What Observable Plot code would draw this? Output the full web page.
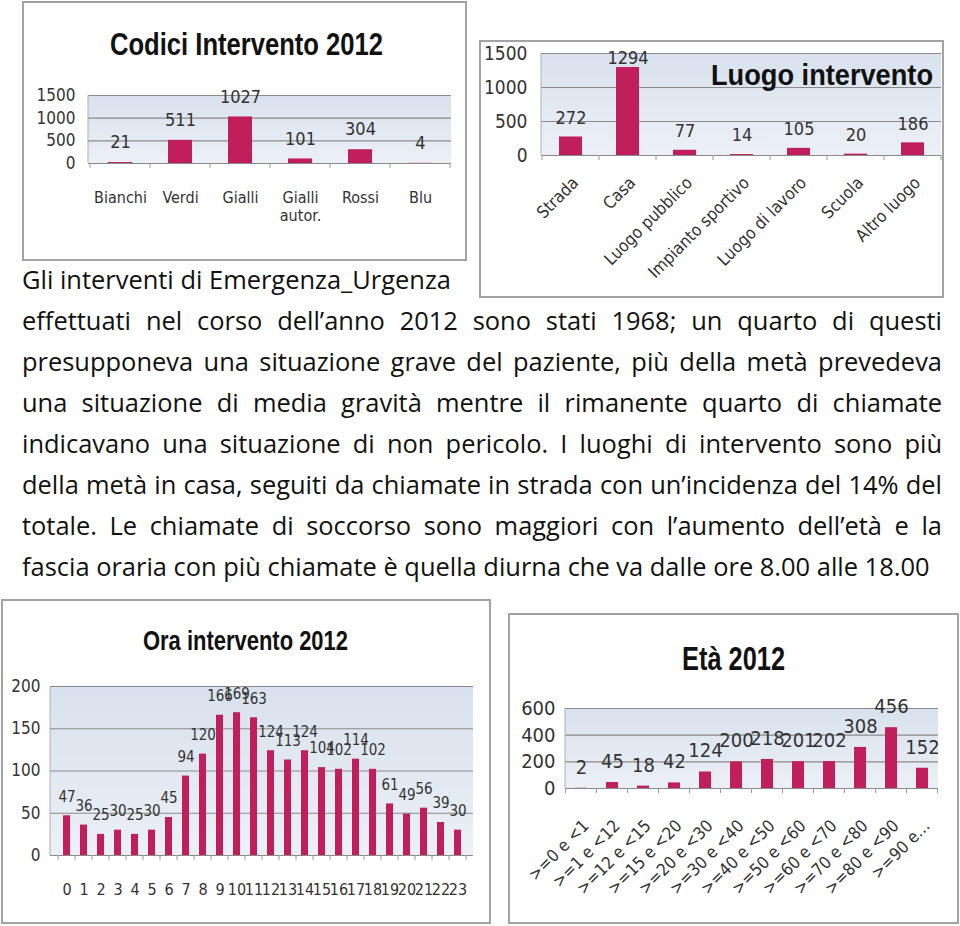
<!DOCTYPE html>
<html><head><meta charset="utf-8">
<script src="https://cdn.jsdelivr.net/npm/d3@7"></script>
<script src="https://cdn.jsdelivr.net/npm/@observablehq/plot@0.6"></script>
<style>
html,body{margin:0;padding:0;background:#fff;}
#page{position:relative;width:960px;height:926px;overflow:hidden;background:#fff;}
.frame{position:absolute;border:2px solid #a3a3a3;background:#fff;box-sizing:border-box;}
.frame svg{position:absolute;left:0;top:0;overflow:visible;}
#testo{position:absolute;left:0;top:0;}
</style></head><body><div id="page"></div>
<script>
// ---- DATA ----
const codiciCategorie = ["Bianchi", "Verdi", "Gialli", "Gialli\nautor.", "Rossi", "Blu"];
const codiciValori = [21, 511, 1027, 101, 304, 4];
const codiciTicks = [0, 500, 1000, 1500];

const luogoCategorie = ["Strada", "Casa", "Luogo pubblico", "Impianto sportivo", "Luogo di lavoro", "Scuola", "Altro luogo"];
const luogoValori = [272, 1294, 77, 14, 105, 20, 186];
const luogoTicks = [0, 500, 1000, 1500];

const oraCategorie = ["0","1","2","3","4","5","6","7","8","9","10","11","12","13","14","15","16","17","18","19","20","21","22","23"];
const oraValori = [47, 36, 25, 30, 25, 30, 45, 94, 120, 166, 169, 163, 124, 113, 124, 104, 102, 114, 102, 61, 49, 56, 39, 30];
const oraTicks = [0, 50, 100, 150, 200];

const etaCategorie = [">=0 e <1", ">=1 e <12", ">=12 e <15", ">=15 e <20", ">=20 e <30", ">=30 e <40", ">=40 e <50", ">=50 e <60", ">=60 e <70", ">=70 e <80", ">=80 e <90", ">=90 e\u2026"];
const etaValori = [2, 45, 18, 42, 124, 200, 218, 201, 202, 308, 456, 152];
const etaTicks = [0, 200, 400, 600];

const testoRighe = [
  "Gli interventi di Emergenza_Urgenza",
  "effettuati nel corso dell\u2019anno 2012 sono stati 1968; un quarto di questi",
  "presupponeva una situazione grave del paziente, pi\u00f9 della met\u00e0 prevedeva",
  "una situazione di media gravit\u00e0 mentre il rimanente quarto di chiamate",
  "indicavano una situazione di non pericolo. I luoghi di intervento sono pi\u00f9",
  "della met\u00e0 in casa, seguiti da chiamate in strada con un\u2019incidenza del 14% del",
  "totale. Le chiamate di soccorso sono maggiori con l\u2019aumento dell\u2019et\u00e0 e la",
  "fascia oraria con pi\u00f9 chiamate \u00e8 quella diurna che va dalle ore 8.00 alle 18.00"
];

// ---- STYLE ----
const BAR = "#c01f5c";
const INK = "#333333";
const CHART_FONT = "'Liberation Sans Narrow','DejaVu Sans Condensed','Open Sans',sans-serif";
const TITLE_FONT = "'Liberation Sans Narrow','Liberation Sans','DejaVu Sans Condensed',sans-serif";
const BODY_FONT = "'Open Sans','Noto Sans',sans-serif";
const page = document.getElementById("page");

function backdrop(id) {
  return (index, scales, values, dims) => {
    const g = d3.create("svg:g");
    const grad = g.append("defs").append("linearGradient").attr("id", id).attr("x1", 0).attr("y1", 0).attr("x2", 0).attr("y2", 1);
    grad.append("stop").attr("offset", "0%").attr("stop-color", "#d8e1ed");
    grad.append("stop").attr("offset", "100%").attr("stop-color", "#ecf0f6");
    g.append("rect")
      .attr("x", dims.marginLeft).attr("y", dims.marginTop)
      .attr("width", dims.width - dims.marginLeft - dims.marginRight)
      .attr("height", dims.height - dims.marginTop - dims.marginBottom)
      .attr("fill", `url(#${id})`);
    return g.node();
  };
}

function bandTicks(len) {
  return (index, scales, values, dims) => {
    const x = scales.x;
    const dom = x.domain();
    const step = x.step ? x.step() : (dims.width - dims.marginLeft - dims.marginRight) / dom.length;
    const bw = x.bandwidth ? x.bandwidth() : 0;
    const xs = dom.map(d => x(d) + bw / 2 - step / 2);
    xs.push(x(dom[dom.length - 1]) + bw / 2 + step / 2);
    const y0 = dims.height - dims.marginBottom;
    const g = d3.create("svg:g").attr("stroke", "#9a9a9a").attr("stroke-width", 1);
    g.selectAll("line").data(xs).join("line")
      .attr("x1", d => d).attr("x2", d => d).attr("y1", y0).attr("y2", y0 + len);
    g.append("line").attr("x1", dims.marginLeft).attr("x2", dims.marginLeft)
      .attr("y1", dims.marginTop).attr("y2", y0).attr("stroke", "#b0b0b0");
    return g.node();
  };
}

function chart(o) {
  const [left, top, w, h] = o.box;
  const frame = document.createElement("div");
  frame.className = "frame";
  Object.assign(frame.style, {left: left + "px", top: top + "px", width: w + "px", height: h + "px"});
  page.appendChild(frame);
  const data = o.cats.map((c, i) => ({c, v: o.vals[i]}));
  const [mt, mr, mb, ml] = o.margins;
  const cap = o.labelCap || Infinity;
  const svg = Plot.plot({
    width: w - 4, height: h - 4,
    marginTop: mt, marginRight: mr, marginBottom: mb, marginLeft: ml,
    style: {fontFamily: CHART_FONT, fontSize: "16px", color: INK, background: "transparent", overflow: "visible"},
    x: {domain: o.cats, paddingInner: 0.6, paddingOuter: 0.3, axis: null},
    y: {domain: [0, o.yTicks[o.yTicks.length - 1]], axis: null},
    marks: [
      backdrop(o.id),
      Plot.ruleY(o.yTicks.slice(1), {stroke: "#8a8a8a", strokeWidth: 1.2}),
      Plot.barY(data, {x: "c", y: "v", fill: BAR}),
      Plot.ruleY([0], {stroke: "#8a8a8a", strokeWidth: 1.2}),
      bandTicks(5),
      Plot.text(data, {x: "c", y: d => Math.min(d.v, cap), text: d => String(d.v), dy: o.valueDy, fontSize: o.valueFont, fill: INK}),
      Plot.axisY({ticks: o.yTicks, tickSize: 0, tickPadding: o.yPad, fontSize: o.yFont, label: null, tickFormat: d => String(d)}),
      Plot.axisX({tickSize: 0, tickPadding: o.xPad, tickRotate: o.rotate || 0, fontSize: o.xFont, label: null,
                  dx: o.xDx || 0, lineHeight: 1.15})
    ]
  });
  frame.appendChild(svg);
  d3.select(svg).append("text")
    .attr("x", o.title.x).attr("y", o.title.y)
    .attr("text-anchor", "start")
    .attr("font-family", TITLE_FONT).attr("font-weight", "bold")
    .attr("font-size", o.title.size).attr("fill", "#111")
    .attr("textLength", o.title.w).attr("lengthAdjust", "spacingAndGlyphs")
    .text(o.title.text);
  return svg;
}

// ---- CHARTS ----
chart({id: "gA", box: [22, 1, 445, 260], margins: [92, 14, 96, 64],
  cats: codiciCategorie, vals: codiciValori, yTicks: codiciTicks,
  yFont: 17, xFont: 16, valueFont: 18, valueDy: -20, yPad: 13, xPad: 26,
  title: {text: "Codici Intervento 2012", x: 86, y: 52, w: 273, size: 32}});

chart({id: "gB", box: [479, 40, 465, 258], margins: [11, 1, 141, 60],
  cats: luogoCategorie, vals: luogoValori, yTicks: luogoTicks, labelCap: 1150,
  yFont: 19, xFont: 17, valueFont: 18, valueDy: -19, yPad: 14, xPad: 24, rotate: -45, xDx: 4,
  title: {text: "Luogo intervento", x: 230, y: 43, w: 222, size: 30}});

chart({id: "gC", box: [1, 599, 490, 325], margins: [85, 16, 67, 47],
  cats: oraCategorie, vals: oraValori, yTicks: oraTicks,
  yFont: 17, xFont: 16, valueFont: 15, valueDy: -19, yPad: 10, xPad: 26,
  title: {text: "Ora intervento 2012", x: 140, y: 49, w: 205, size: 27}});

chart({id: "gD", box: [508, 613, 451, 311], margins: [93, 19, 134, 55],
  cats: etaCategorie, vals: etaValori, yTicks: etaTicks,
  yFont: 20, xFont: 17, valueFont: 20, valueDy: -21, yPad: 10, xPad: 34, rotate: -45, xDx: 4,
  title: {text: "Et\u00e0 2012", x: 172, y: 55, w: 103, size: 34}});

// ---- TEXT ----
const svgT = d3.select(page).append("svg").attr("id", "testo").attr("width", 960).attr("height", 926);
const probe = svgT.append("text").attr("font-family", BODY_FONT).attr("font-size", 100).text(testoRighe[7]);
const w100 = probe.node().getComputedTextLength();
probe.remove();
const fs = 100 * 908 / w100;
testoRighe.forEach((t, i) => {
  const el = svgT.append("text").attr("x", 22).attr("y", 289 + i * 41)
    .attr("font-family", BODY_FONT).attr("font-size", fs).attr("fill", "#111")
    .text(t);
  if (i >= 1 && i <= 6) {
    const nat = el.node().getComputedTextLength();
    const n = (t.match(/ /g) || []).length;
    el.style("word-spacing", ((920 - nat) / n) + "px");
  }
});
</script></body></html>
